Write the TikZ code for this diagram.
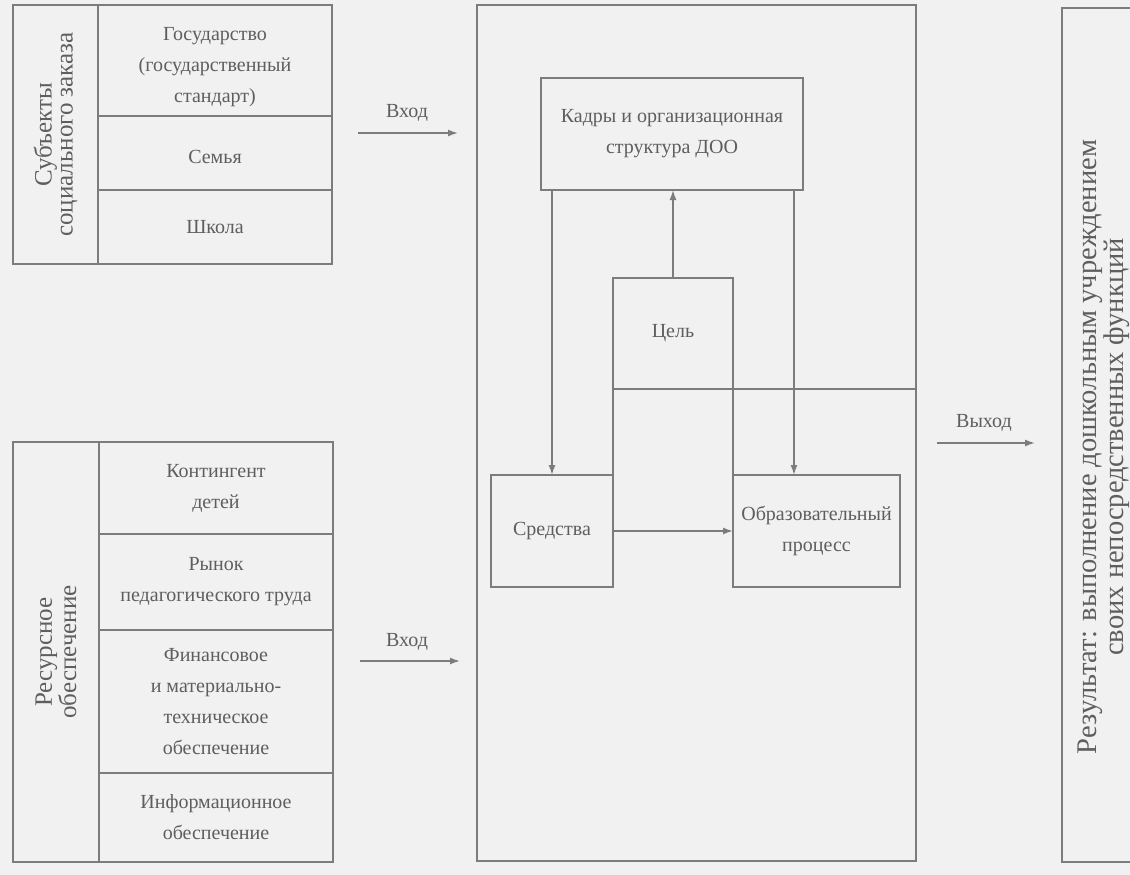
\documentclass[tikz,border=0pt]{standalone}
\usepackage{fontspec}
\setmainfont{Liberation Serif}
\usetikzlibrary{arrows.meta}
\definecolor{ln}{HTML}{7C7C7C}
\definecolor{tx}{HTML}{5E5E5E}
\definecolor{bg}{HTML}{F1F1F1}
\tikzset{
  box/.style={draw=ln, line width=1.5pt, inner sep=0pt, outer sep=0pt, align=center, text=tx,
    font=\fontsize{20}{31}\selectfont},
  rbox/.style={box, rotate=90, font=\fontsize{25}{21}\selectfont},
  lbl/.style={text=tx, inner sep=0pt, font=\fontsize{20}{24}\selectfont},
  arr/.style={draw=ln, line width=1.5pt, -{Latex[length=10pt,width=7pt]}},
  ln/.style={draw=ln, line width=1.5pt}
}
\begin{document}
\begin{tikzpicture}[x=1pt, y=-1pt]
\fill[bg] (0,0) rectangle (1130,875);
\useasboundingbox (0,0) rectangle (1130,875);
% top-left group
\node[rbox, minimum width=259pt, minimum height=85pt] (subj) at (55.5,134.5) {Субъекты\\социального заказа};
\node[box, minimum width=234pt, minimum height=111pt] (gos) at (215,60.5) {\raisebox{-12pt}[0pt][0pt]{\parbox{230pt}{\centering Государство\\(государственный\\стандарт)}}};
\node[box, minimum width=234pt, minimum height=74pt] (sem) at (215,153) {\raisebox{-10pt}[0pt][0pt]{Семья}};
\node[box, minimum width=234pt, minimum height=74pt] (shk) at (215,227) {Школа};
% bottom-left group
\node[rbox, minimum width=420pt, minimum height=86pt] (res) at (56,652) {Ресурсное\\обеспечение};
\node[box, minimum width=234pt, minimum height=92pt] (kont) at (216,488) {Контингент\\детей};
\node[box, minimum width=234pt, minimum height=96pt] (ryn) at (216,582) {Рынок\\педагогического труда};
\node[box, minimum width=234pt, minimum height=143pt] (fin) at (216,701.5) {Финансовое\\и материально-\\техническое\\обеспечение};
\node[box, minimum width=234pt, minimum height=89pt] (inf) at (216,817.5) {Информационное\\обеспечение};
% main system
\node[box, minimum width=439pt, minimum height=856pt] (main) at (696.5,433) {};
\node[box, minimum width=262pt, minimum height=112pt] (kadry) at (672,134) {Кадры и организационная\\структура ДОО};
\node[box, minimum width=120pt, minimum height=111pt] (cel) at (673,333.5) {Цель};
\node[box, minimum width=122pt, minimum height=112pt] (sred) at (552,531) {Средства};
\node[box, minimum width=167pt, minimum height=112pt] (obr) at (816.5,531) {Образовательный\\процесс};
\coordinate (rx) at (794,0);
\draw[ln] (cel.south west) -- (sred.north east);
\draw[ln] (cel.south east) -- (obr.north west);
\draw[ln] (cel.south east) -- (cel.south east -| main.east);
\draw[arr] (cel.north) -- (cel.north |- kadry.south);
\draw[arr] (kadry.south -| sred.north) -- (sred.north);
\draw[arr] (kadry.south -| rx) -- (obr.north -| rx);
\draw[arr] (sred.east) -- (sred.east -| obr.west);
% result
\node[box, minimum width=78pt, minimum height=854pt] (rbx) at (1101,435) {};
\node[text=tx, rotate=90, align=center, inner sep=0pt, font=\fontsize{28.5}{22}\selectfont] (rtx) at (1104,447) {Результат: выполнение дошкольным учреждением\\своих непосредственных функций};
% inputs / output
\coordinate (i1s) at (358,133); \coordinate (i1e) at (458,133);
\coordinate (i2s) at (360,661); \coordinate (i2e) at (460,661);
\coordinate (os) at (937,443); \coordinate (oe) at (1035,443);
\draw[arr] (i1s) -- (i1e);
\draw[arr] (i2s) -- (i2e);
\draw[arr] (os) -- (oe);
\node[lbl] (l1) at (407,113) {Вход};
\node[lbl] (l2) at (407,642) {Вход};
\node[lbl] (l3) at (984,423) {Выход};
\end{tikzpicture}
\end{document}
